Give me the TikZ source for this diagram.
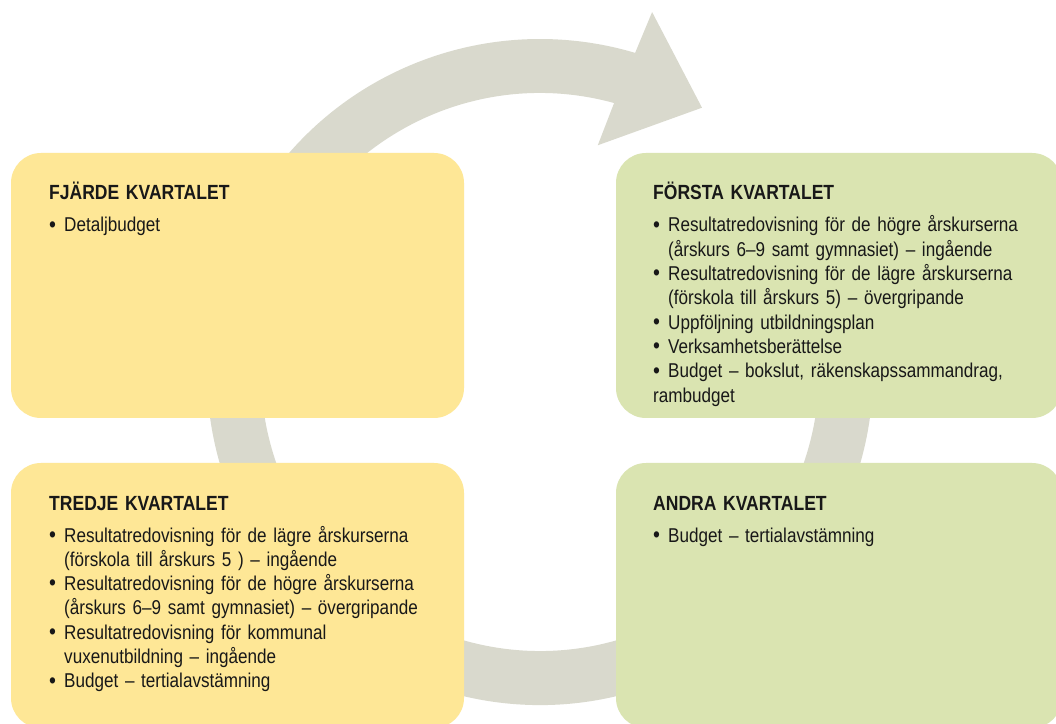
\documentclass[tikz,border=0pt]{standalone}
\usepackage{fontspec}
\setmainfont{Liberation Sans}[FakeStretch=0.855]
\usetikzlibrary{calc}
\definecolor{qyellow}{RGB}{254,231,150}
\definecolor{qgreen}{RGB}{218,228,177}
\definecolor{qring}{RGB}{217,217,205}
\definecolor{qtext}{RGB}{24,24,24}
\newcommand\qitem{\par\hangindent=15pt\hangafter=1\noindent\makebox[15pt][l]{\raisebox{-0.3pt}{\fontsize{23}{23}\selectfont\textbullet}}}
\newcommand\qbr{\hfil\break}
\newcommand\qtitle[1]{{\fontsize{20.5}{24.3}\selectfont\bfseries #1}\par\vspace{7.7pt}}
\begin{document}
\begin{tikzpicture}[x=1pt,y=1pt,
  qbox/.style={rounded corners=30pt, inner sep=0pt, draw=none, minimum width=#1},
  qtxt/.style={anchor=base west, text width=430pt, inner sep=0pt, align=left,
    font=\fontsize{20}{24.3}\selectfont, text=qtext}]
\useasboundingbox (0,0) rectangle (1056,723);
\clip (0,0) rectangle (1056,723);
\fill[white] (0,0) rectangle (1056,723);
\coordinate (c) at (540,351);
% circular arrow
\fill[qring] ($(c)+(20:333)$) arc[start angle=20,end angle=-286.6,radius=333]
  -- ($(c)+(72.7:377)$) -- ($(c)+(58.5:310)$) -- ($(c)+(75.7:234)$)
  -- ($(c)+(74.6:279)$) arc[start angle=-285.4,end angle=20,radius=279] -- cycle;
% boxes
\node[qbox=453pt, minimum height=265pt, fill=qyellow] (q4) at (237.5,437.5) {};
\node[qbox=446pt, minimum height=265pt, fill=qgreen] (q1) at (839,437.5) {};
\node[qbox=453pt, minimum height=265pt, fill=qyellow] (q3) at (237.5,127.5) {};
\node[qbox=446pt, minimum height=265pt, fill=qgreen] (q2) at (839,127.5) {};
% texts
\node[qtxt] (t4) at (49,523) {\qtitle{FJÄRDE KVARTALET}\qitem Detaljbudget};
\node[qtxt] (t1) at (653,523) {\qtitle{FÖRSTA KVARTALET}%
\qitem Resultatredovisning för de högre årskurserna\qbr(årskurs 6–9 samt gymnasiet) – ingående
\qitem Resultatredovisning för de lägre årskurserna\qbr(förskola till årskurs 5) – övergripande
\qitem Uppföljning utbildningsplan
\qitem Verksamhetsberättelse
\qitem Budget – bokslut, räkenskapssammandrag,\qbr rambudget};
\node[qtxt] (t3) at (49,213) {\qtitle{TREDJE KVARTALET}%
\qitem Resultatredovisning för de lägre årskurserna\qbr(förskola till årskurs 5 ) – ingående
\qitem Resultatredovisning för de högre årskurserna\qbr(årskurs 6–9 samt gymnasiet) – övergripande
\qitem Resultatredovisning för kommunal\qbr vuxenutbildning – ingående
\qitem Budget – tertialavstämning};
\node[qtxt] (t2) at (653,213) {\qtitle{ANDRA KVARTALET}\qitem Budget – tertialavstämning};
\end{tikzpicture}
\end{document}
